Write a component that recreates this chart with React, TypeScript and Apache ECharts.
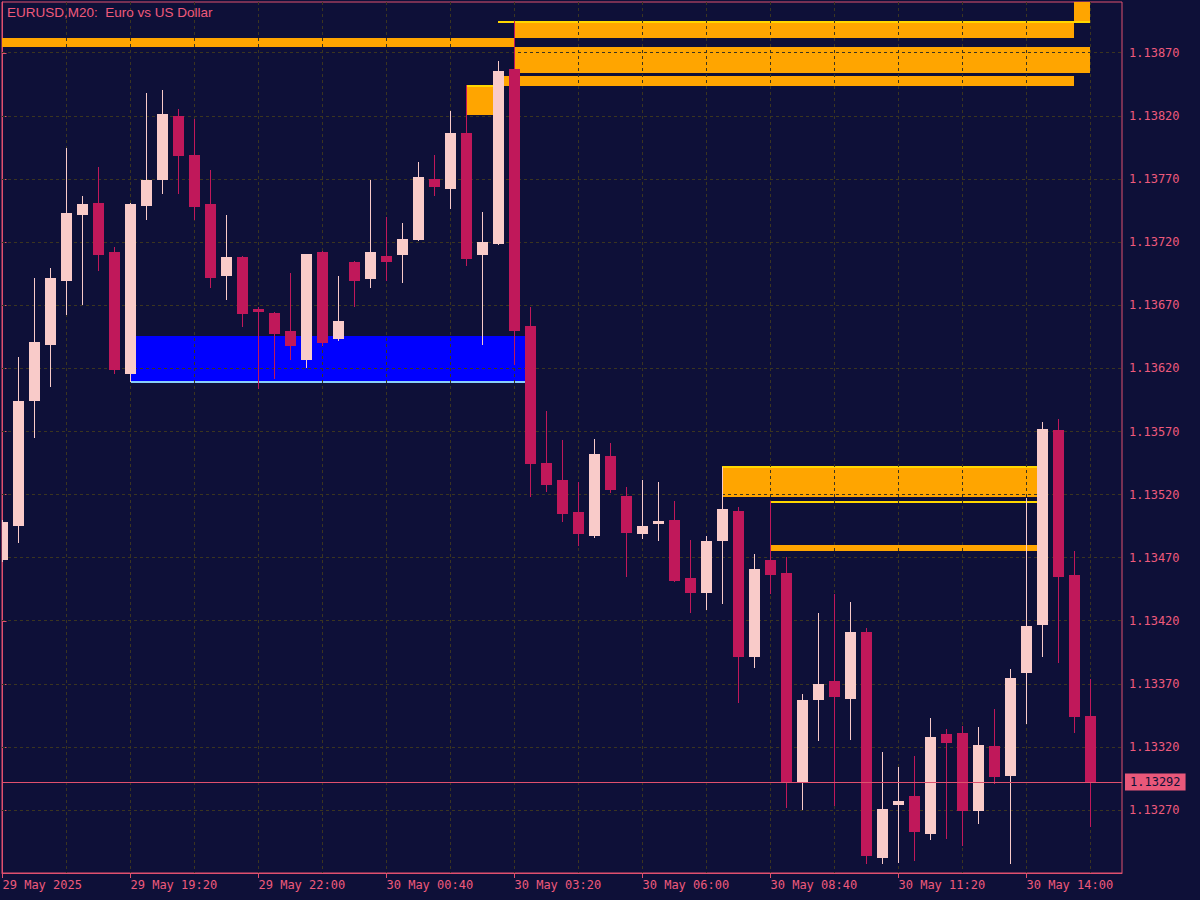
import React, { useEffect, useRef } from "react";
import * as echarts from "echarts";

// ---- data ----
const timeLabels = ["29 May 2025", "29 May 19:20", "29 May 22:00", "30 May 00:40", "30 May 03:20", "30 May 06:00", "30 May 08:40", "30 May 11:20", "30 May 14:00"];
const timeLabelBars = [0, 8, 16, 24, 32, 40, 48, 56, 64];
const verticalGridBars = [4, 8, 12, 16, 20, 24, 28, 32, 36, 40, 44, 48, 52, 56, 60, 64, 68];
const priceTicks = [1.1327, 1.1332, 1.1337, 1.1342, 1.1347, 1.1352, 1.1357, 1.1362, 1.1367, 1.1372, 1.1377, 1.1382, 1.1387];

const opens = [1.13468, 1.13495, 1.13594, 1.13639, 1.13689, 1.13742, 1.13751, 1.13712, 1.13616, 1.13749, 1.13769, 1.13820, 1.13789, 1.13750, 1.13693, 1.13708, 1.13667, 1.13664, 1.13650, 1.13627, 1.13712, 1.13643, 1.13704, 1.13691, 1.13709, 1.13710, 1.13722, 1.13770, 1.13762, 1.13807, 1.13710, 1.13719, 1.13857, 1.13654, 1.13545, 1.13532, 1.13506, 1.13487, 1.13551, 1.13519, 1.13489, 1.13497, 1.13500, 1.13454, 1.13442, 1.13483, 1.13507, 1.13391, 1.13468, 1.13458, 1.13292, 1.13357, 1.13372, 1.13358, 1.13411, 1.13232, 1.13274, 1.13281, 1.13251, 1.13330, 1.13331, 1.13269, 1.13321, 1.13297, 1.13379, 1.13417, 1.13571, 1.13456, 1.13345];
const highs = [1.13500, 1.13629, 1.13692, 1.13700, 1.13795, 1.13757, 1.13780, 1.13716, 1.13751, 1.13838, 1.13841, 1.13826, 1.13818, 1.13777, 1.13742, 1.13709, 1.13669, 1.13665, 1.13696, 1.13711, 1.13713, 1.13693, 1.13705, 1.13769, 1.13740, 1.13735, 1.13784, 1.13789, 1.13824, 1.13845, 1.13744, 1.13864, 1.13895, 1.13669, 1.13586, 1.13563, 1.13530, 1.13564, 1.13561, 1.13526, 1.13532, 1.13530, 1.13515, 1.13484, 1.13487, 1.13542, 1.13510, 1.13473, 1.13515, 1.13471, 1.13362, 1.13426, 1.13441, 1.13435, 1.13414, 1.13316, 1.13304, 1.13313, 1.13343, 1.13334, 1.13337, 1.13336, 1.13350, 1.13382, 1.13517, 1.13578, 1.13580, 1.13475, 1.13374];
const lows = [1.13467, 1.13482, 1.13565, 1.13605, 1.13662, 1.13670, 1.13697, 1.13616, 1.13609, 1.13738, 1.13758, 1.13758, 1.13738, 1.13684, 1.13674, 1.13653, 1.13604, 1.13612, 1.13627, 1.13620, 1.13638, 1.13642, 1.13669, 1.13684, 1.13689, 1.13688, 1.13721, 1.13757, 1.13746, 1.13701, 1.13639, 1.13718, 1.13623, 1.13518, 1.13522, 1.13498, 1.13479, 1.13486, 1.13521, 1.13455, 1.13485, 1.13483, 1.13451, 1.13426, 1.13429, 1.13433, 1.13355, 1.13383, 1.13441, 1.13272, 1.13270, 1.13325, 1.13273, 1.13326, 1.13227, 1.13227, 1.13228, 1.13230, 1.13246, 1.13247, 1.13242, 1.13259, 1.13291, 1.13227, 1.13338, 1.13391, 1.13387, 1.13331, 1.13257];
const closes = [1.13498, 1.13594, 1.13641, 1.13692, 1.13743, 1.13750, 1.13710, 1.13619, 1.13750, 1.13769, 1.13822, 1.13788, 1.13748, 1.13692, 1.13708, 1.13663, 1.13665, 1.13647, 1.13638, 1.13711, 1.13640, 1.13658, 1.13689, 1.13712, 1.13704, 1.13723, 1.13772, 1.13764, 1.13807, 1.13707, 1.13720, 1.13856, 1.13650, 1.13544, 1.13528, 1.13505, 1.13489, 1.13552, 1.13524, 1.13490, 1.13495, 1.13499, 1.13452, 1.13442, 1.13483, 1.13509, 1.13391, 1.13461, 1.13456, 1.13292, 1.13357, 1.13370, 1.13360, 1.13411, 1.13234, 1.13271, 1.13277, 1.13253, 1.13328, 1.13323, 1.13269, 1.13322, 1.13296, 1.13375, 1.13416, 1.13572, 1.13455, 1.13344, 1.13292];

const lastPrice = 1.13292;

// supply / demand zones (bar index range, price range, kind)
const zoneFrom = [-1, 32, 67, 32, 31, 29, 45, 48, 8];
const zoneTo = [32, 67, 68, 68, 67, 31, 65, 65, 33];
const zoneHigh = [1.13882, 1.13894, 1.13915, 1.13875, 1.13852, 1.13845, 1.13543, 1.13480, 1.13646];
const zoneLow = [1.13875, 1.13882, 1.13895, 1.13854, 1.13844, 1.13821, 1.13518, 1.13475, 1.13610];
const zoneKind = ["supply", "supply", "supply", "supply", "supply", "supply", "supply", "supply", "demand"];

// zone edge lines
const edgeFrom = [31, 29, 45, 48, 8];
const edgeTo = [68, 31, 65, 65, 33];
const edgePrice = [1.13895, 1.13845, 1.13543, 1.13515, 1.13610];
const edgeKind = ["supply", "supply", "supply", "supply", "demand"];

// ---- styles ----
const BG = "#0e1038";
const AXIS = "#e0506e";
const TEXT = "#ee5a7c";
const GRIDC = "#3b3520";
const BULL = "#f9cbc9";
const BEAR = "#c0185a";
const ZONE_FILL: Record<string, string> = { supply: "#ffa500", demand: "#0000ff" };
const EDGE_FILL: Record<string, string> = { supply: "#ffd700", demand: "#87cefa" };
const MONO = "'DejaVu Sans Mono', 'Liberation Mono', monospace";

const X_MIN = -0.03125;
const X_MAX = 69.96875;
const Y_MIN = 1.1322024;
const Y_MAX = 1.1391041;

function clipRect(params: any, r: any) {
  return echarts.graphic.clipRectByRect(r, params.coordSys as any);
}

export default function App() {
  const ref = useRef<HTMLDivElement>(null);

  useEffect(() => {
    if (!ref.current) return;
    const chart = echarts.init(ref.current, undefined, { renderer: "svg" });

    const candleData = opens.map((o, i) => [i, o, highs[i], lows[i], closes[i]]);
    const zoneData = zoneFrom.map((f, i) => [f, zoneTo[i], zoneHigh[i], zoneLow[i]]);
    const edgeData = edgeFrom.map((f, i) => [f, edgeTo[i], edgePrice[i]]);

    const option: any = {
      animation: false,
      backgroundColor: BG,
      textStyle: { fontFamily: MONO },
      title: {
        text: "EURUSD,M20:  Euro vs US Dollar",
        left: 7,
        top: 5,
        padding: 0,
        textStyle: { color: TEXT, fontSize: 13.5, fontWeight: "normal", fontFamily: "'Liberation Sans', Arial, sans-serif" },
      },
      grid: { left: 2, right: 78, top: 2, bottom: 27, show: true, borderColor: AXIS, borderWidth: 1, backgroundColor: "transparent", containLabel: false, outerBoundsMode: "none" },
      xAxis: {
        type: "value",
        min: X_MIN,
        max: X_MAX,
        axisLine: { show: true, lineStyle: { color: AXIS } },
        axisTick: { show: true, customValues: timeLabelBars, length: 5, lineStyle: { color: AXIS } },
        axisLabel: {
          customValues: timeLabelBars,
          formatter: (v: number) => timeLabels[timeLabelBars.indexOf(Math.round(v))] || "",
          align: "left",
          margin: 6,
          color: TEXT,
          fontSize: 12,
          fontFamily: MONO,
        },
        splitLine: { show: false },
      },
      yAxis: {
        type: "value",
        position: "right",
        min: Y_MIN,
        max: Y_MAX,
        scale: true,
        axisLine: { show: true, lineStyle: { color: AXIS } },
        axisTick: { show: true, customValues: priceTicks, length: 4, lineStyle: { color: AXIS } },
        axisLabel: {
          customValues: priceTicks,
          formatter: (v: number) => v.toFixed(5),
          margin: 7,
          color: TEXT,
          fontSize: 12,
          fontFamily: MONO,
        },
        splitLine: { show: false },
      },
      series: [
        {
          type: "custom",
          name: "zones",
          z: 1,
          data: zoneData,
          renderItem: (params: any, api: any) => {
            const a = api.coord([api.value(0), api.value(2)]);
            const b = api.coord([api.value(1), api.value(3)]);
            const x0 = Math.floor(a[0]);
            const x1 = Math.floor(b[0]);
            const y0 = Math.round(a[1]);
            const y1 = Math.round(b[1]);
            const shape = clipRect(params, { x: x0, y: y0, width: x1 - x0, height: y1 - y0 });
            if (!shape) return null;
            return { type: "rect", shape, style: { fill: ZONE_FILL[zoneKind[params.dataIndex]] } };
          },
        },
        {
          type: "custom",
          name: "zoneEdges",
          z: 2,
          data: edgeData,
          renderItem: (params: any, api: any) => {
            const a = api.coord([api.value(0), api.value(2)]);
            const b = api.coord([api.value(1), api.value(2)]);
            const x0 = Math.floor(a[0]);
            const x1 = Math.floor(b[0]);
            const y0 = Math.round(a[1]);
            const shape = clipRect(params, { x: x0, y: y0, width: x1 - x0, height: 2 });
            if (!shape) return null;
            return { type: "rect", shape, style: { fill: EDGE_FILL[edgeKind[params.dataIndex]] } };
          },
        },
        {
          type: "custom",
          name: "vgrid",
          z: 3,
          data: verticalGridBars.map((b) => [b, priceTicks[0]]),
          renderItem: (params: any, api: any) => {
            const p = api.coord([api.value(0), api.value(1)]);
            const cs = params.coordSys;
            const x = Math.floor(p[0]) + 0.5;
            return {
              type: "line",
              shape: { x1: x, y1: cs.y, x2: x, y2: cs.y + cs.height },
              style: { stroke: GRIDC, lineWidth: 1, lineDash: [3, 3] },
            };
          },
        },
        {
          type: "custom",
          name: "hgrid",
          z: 3,
          data: priceTicks.map((p) => [0, p]),
          renderItem: (params: any, api: any) => {
            const p = api.coord([api.value(0), api.value(1)]);
            const cs = params.coordSys;
            const y = Math.floor(p[1]) + 0.5;
            return {
              type: "line",
              shape: { x1: cs.x, y1: y, x2: cs.x + cs.width, y2: y },
              style: { stroke: GRIDC, lineWidth: 1, lineDash: [3, 3] },
            };
          },
        },
        {
          type: "custom",
          name: "EURUSD",
          z: 4,
          data: candleData,
          renderItem: (params: any, api: any) => {
            const idx = api.value(0);
            const o = api.value(1);
            const h = api.value(2);
            const l = api.value(3);
            const c = api.value(4);
            const x = api.coord([idx, o])[0];
            const yO = api.coord([idx, o])[1];
            const yH = api.coord([idx, h])[1];
            const yL = api.coord([idx, l])[1];
            const yC = api.coord([idx, c])[1];
            const cx = Math.floor(x);
            const color = c >= o ? BULL : BEAR;
            const top = Math.round(Math.min(yO, yC));
            const bot = Math.round(Math.max(yO, yC));
            const children: any[] = [];
            const wTop = Math.round(yH);
            const wBot = Math.round(yL);
            const wick = clipRect(params, { x: cx, y: wTop, width: 1, height: Math.max(1, wBot - wTop) });
            if (wick) children.push({ type: "rect", shape: wick, style: { fill: color } });
            const body = clipRect(params, { x: cx - 5, y: top, width: 11, height: Math.max(1, bot - top) });
            if (body) children.push({ type: "rect", shape: body, style: { fill: color } });
            return { type: "group", children };
          },
        },
        {
          type: "custom",
          name: "lastPrice",
          z: 6,
          data: [[X_MIN, lastPrice]],
          renderItem: (params: any, api: any) => {
            const p = api.coord([api.value(0), api.value(1)]);
            const cs = params.coordSys;
            const y = Math.floor(p[1]) + 0.5;
            return {
              type: "group",
              children: [
                {
                  type: "line",
                  shape: { x1: cs.x, y1: y, x2: cs.x + cs.width, y2: y },
                  style: { stroke: AXIS, lineWidth: 1 },
                },
                {
                  type: "text",
                  x: cs.x + cs.width + 3,
                  y: Math.floor(p[1]),
                  style: {
                    text: api.value(1).toFixed(5),
                    fill: BG,
                    backgroundColor: "#e9587a",
                    padding: [3, 5, 2, 5],
                    font: "12px " + MONO,
                    verticalAlign: "middle",
                    align: "left",
                  },
                },
              ],
            };
          },
        },
      ],
    };

    chart.setOption(option);
    return () => chart.dispose();
  }, []);

  return <div ref={ref} style={{ position: "absolute", left: 0, top: 0, width: 1200, height: 900 }} />;
}
